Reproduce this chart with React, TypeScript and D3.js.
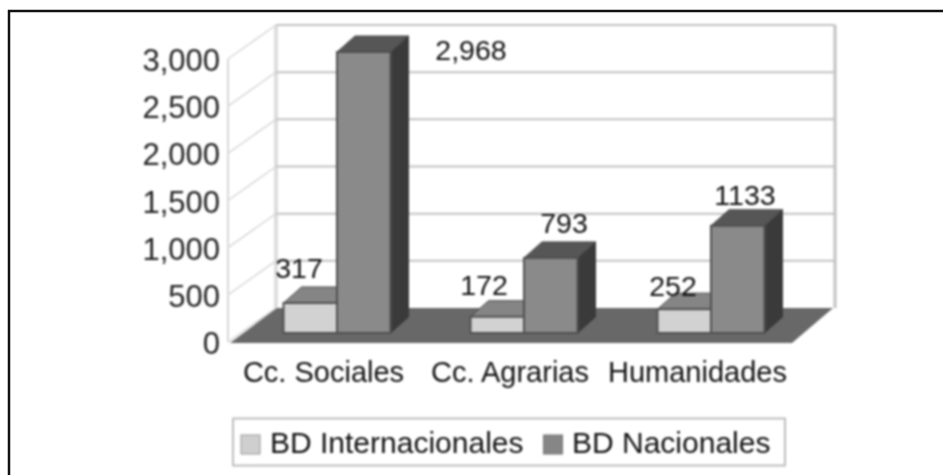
import React from "react";
import * as d3 from "d3";

const categories = ["Cc. Sociales", "Cc. Agrarias", "Humanidades"];
const intl = [317, 172, 252];
const nac = [2968, 793, 1133];
const nacLabels = ["2,968", "793", "1133"];
const ticks = [0, 500, 1000, 1500, 2000, 2500, 3000];
const legendItems = ["BD Internacionales", "BD Nacionales"];

const yWall = d3.scaleLinear().domain([0, 3000]).range([342, 59]);
const yBar = d3.scaleLinear().domain([0, 3000]).range([333, 49]);
const x = d3.scaleBand<string>().domain(categories).range([243.5, 804.5]);
const barW = 53.5, dx = 18, dy = -16;
const wallDx = 48, wallDy = -34;
const FONT = "Liberation Sans, Arial, sans-serif";
const fmt = d3.format(",");
const poly = (pts: number[][]) => pts.map(p => p.join(",")).join(" ");

function Bar({ left, v, front, top, side }: { left: number; v: number; front: string; top: string; side: string }) {
  const yt = yBar(v), yb = yBar(0), w = barW;
  return (
    <g>
      <polygon points={poly([[left + w, yb], [left + w + dx, yb + dy], [left + w + dx, yt + dy], [left + w, yt]])} fill={side} stroke={side} />
      <polygon points={poly([[left, yt], [left + dx, yt + dy], [left + w + dx, yt + dy], [left + w, yt]])} fill={top} stroke="#484848" />
      <rect x={left} y={yt} width={w} height={yb - yt} fill={front} stroke="#505050" strokeWidth={2} />
    </g>
  );
}

export default function App() {
  const x0 = 228, x1 = x0 + wallDx, xr = 835;
  const top = yWall(3000) + wallDy, back = yWall(0) + wallDy;
  return (
    <svg width={943} height={475} style={{ position: "absolute", left: 0, top: 0, background: "#fff" }} fontFamily={FONT}>
      <line x1={9} y1={10} x2={9} y2={475} stroke="#111" strokeWidth={2.5} />
      <line x1={8} y1={11} x2={943} y2={11} stroke="#111" strokeWidth={2.5} />
      <g style={{ filter: "blur(0.8px)" }}>
        <line x1={x0} y1={yWall(3000)} x2={x0} y2={yWall(0)} stroke="#d8d8d8" strokeWidth={2} />
        <line x1={x1} y1={top} x2={x1} y2={back} stroke="#dedede" strokeWidth={4} />
        {ticks.map(t => (
          <g key={t}>
            <line x1={x0} y1={yWall(t)} x2={x1} y2={yWall(t) + wallDy} stroke="#d8d8d8" strokeWidth={1.5} />
            {t > 0 && <line x1={x1} y1={yWall(t) + wallDy} x2={xr} y2={yWall(t) + wallDy} stroke="#c2c2c2" strokeWidth={2} />}
            <text x={220} y={yWall(t) + 12} textAnchor="end" fontSize={31} fill="#222">{fmt(t)}</text>
          </g>
        ))}
        <line x1={xr} y1={top} x2={xr} y2={back} stroke="#c2c2c2" strokeWidth={3} />
        <polygon points={poly([[x0 + 2, yWall(0) + 1], [x1 + 1, back], [833, back], [792, yWall(0) + 1]])} fill="#686868" />
        {categories.map((c, i) => {
          const left = x(c)! + x.bandwidth() / 2 - barW;
          return (
            <g key={c}>
              <Bar left={left} v={intl[i]} front="#d2d2d2" top="#858585" side="#707070" />
              <Bar left={left + barW} v={nac[i]} front="#8a8a8a" top="#565656" side="#3a3a3a" />
              <text x={[323.5, 510, 697.5][i]} y={382} textAnchor="middle" fontSize={29} fill="#111">{c}</text>
            </g>
          );
        })}
        {[[299, 278], [484, 295], [673, 296]].map((p, i) => (
          <text key={i} x={p[0]} y={p[1]} textAnchor="middle" fontSize={28.5} fill="#111">{intl[i]}</text>
        ))}
        {[[471, 60], [564, 233], [745, 205]].map((p, i) => (
          <text key={i} x={p[0]} y={p[1]} textAnchor="middle" fontSize={28.5} fill="#111">{nacLabels[i]}</text>
        ))}
        <rect x={233} y={418.5} width={552} height={47} fill="#fff" stroke="#bdbdbd" strokeWidth={2} />
        <rect x={241} y={435} width={19} height={19} fill="#cfcfcf" stroke="#999" />
        <text x={270} y={453} fontSize={30} fill="#111">{legendItems[0]}</text>
        <rect x={543.5} y={435} width={19} height={19} fill="#868686" stroke="#777" />
        <text x={572} y={453} fontSize={30} fill="#111">{legendItems[1]}</text>
      </g>
    </svg>
  );
}
